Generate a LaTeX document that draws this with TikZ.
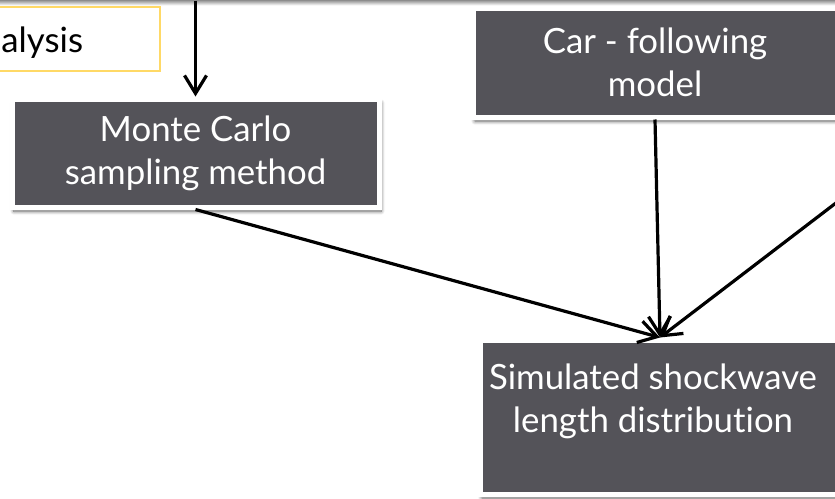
\documentclass[tikz,border=0pt]{standalone}
\usepackage{fontspec}
\setmainfont{Lato}[Ligatures=NoCommon]
\usepackage{xcolor}
\usetikzlibrary{arrows.meta,shadows.blur}
\definecolor{boxgray}{RGB}{84,83,89}
\definecolor{boxgold}{RGB}{255,217,102}

\begin{document}
\begin{tikzpicture}[x=0.5pt,y=-0.5pt]
    \tikzstyle{panel}=[fill=white,draw=white,line width=2.5pt,blur shadow={shadow xshift=1pt,shadow yshift=-2pt,shadow blur radius=2pt,shadow blur steps=8,shadow opacity=65}]
    \tikzstyle{dark}=[panel,fill=boxgray,text=white,align=center,font=\fontsize{17.4}{21.5}\selectfont]
    \tikzstyle{gold}=[fill=white,draw=boxgold,line width=1.2pt]
    \tikzstyle{label}=[text=black,inner sep=0pt,font=\fontsize{17.4}{21.5}\selectfont]
    \tikzstyle{flow}=[line width=1.6pt,-{Straight Barb[length=9pt,width=11pt]}]

    \useasboundingbox (0,0) rectangle (835,498);

    \node[panel,minimum width=450pt,minimum height=30pt](top) at (417.5,-32) {};

    \node[gold,minimum width=90pt,minimum height=32pt](goldbox) at (70,39) {};
    \node[label,anchor=base west](goldtext) at (1,52) {alysis};

    \node[dark,minimum width=183.5pt,minimum height=54pt](montecarlo) at (195.5,153) {Monte Carlo\\sampling method};
    \node[dark,minimum width=182pt,minimum height=54.5pt](carfollow) at (655,62.5) {Car - following\\model};
    \node[dark,minimum width=180pt,minimum height=77pt](shockwave) at (660,417) {};
    \node[label,text=white,align=center](shockwavetext) at (653,401) {Simulated shockwave\\length distribution};

    \coordinate (offright) at (900,154);

    \draw [flow] (montecarlo.north |- top.south) -- (montecarlo.north);
    \draw [flow] (montecarlo.south) -- (shockwave.north);
    \draw [flow] (carfollow.south) -- (shockwave.north);
    \draw [flow] (offright) -- (shockwave.north);

\end{tikzpicture}
\end{document}
